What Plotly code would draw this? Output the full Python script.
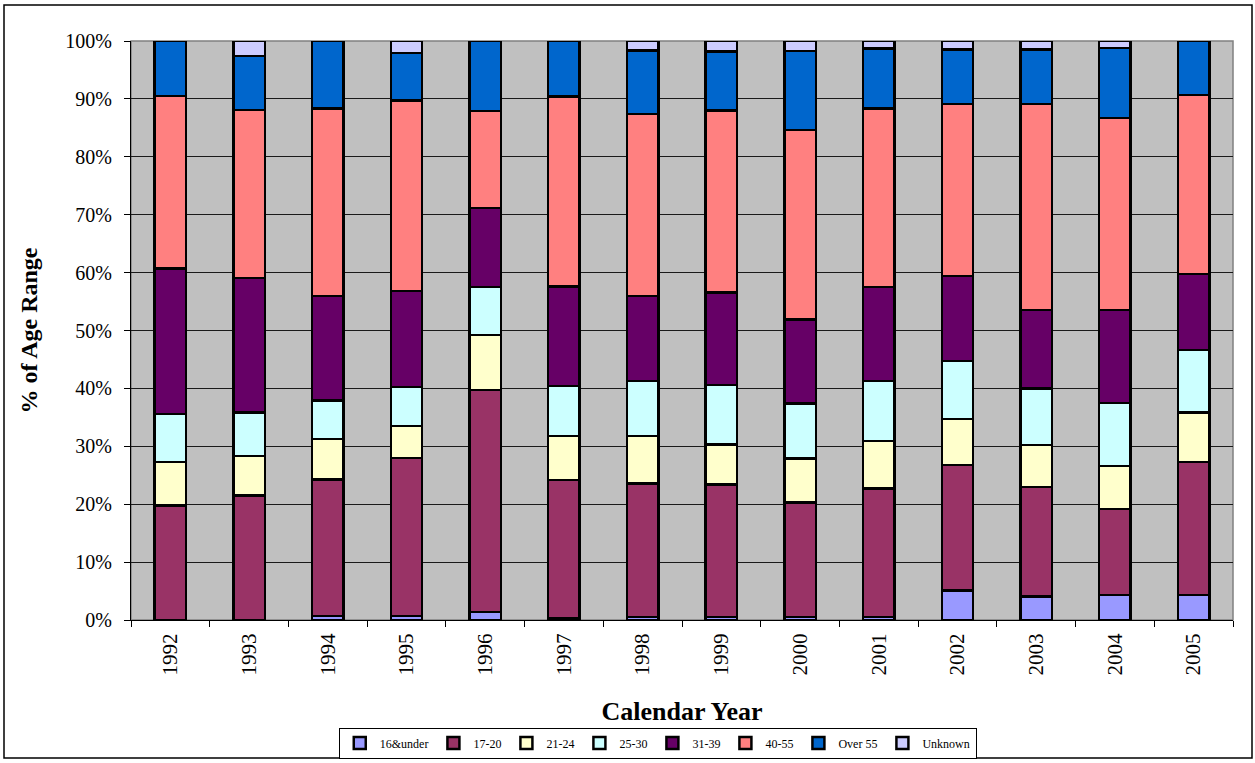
import plotly.graph_objects as go

# Calendar years on the x axis
years = ["1992", "1993", "1994", "1995", "1996", "1997", "1998",
         "1999", "2000", "2001", "2002", "2003", "2004", "2005"]

# Share of each age range per year (%)
age_16_under = [0.0, 0.0, 0.7, 0.7, 1.4, 0.3, 0.5, 0.5, 0.5, 0.5, 5.1, 4.1, 4.3, 4.3]
age_17_20 = [19.8, 21.5, 23.6, 27.3, 38.3, 23.9, 23.1, 22.9, 19.8, 22.2, 21.7, 18.9, 14.9, 23.0]
age_21_24 = [7.5, 6.8, 7.0, 5.5, 9.5, 7.6, 8.2, 6.9, 7.6, 8.2, 7.9, 7.2, 7.4, 8.5]
age_25_30 = [8.3, 7.5, 6.6, 6.7, 8.3, 8.6, 9.5, 10.3, 9.5, 10.4, 10.0, 9.8, 10.9, 10.8]
age_31_39 = [25.1, 23.3, 18.1, 16.6, 13.7, 17.2, 14.7, 16.0, 14.5, 16.2, 14.7, 13.5, 16.0, 13.2]
age_40_55 = [29.8, 29.0, 32.3, 32.9, 16.7, 32.8, 31.4, 31.4, 32.7, 30.8, 29.7, 35.6, 33.2, 30.9]
age_over_55 = [9.5, 9.3, 11.7, 8.2, 12.1, 9.6, 11.0, 10.2, 13.7, 10.4, 9.4, 9.4, 12.1, 9.3]
age_unknown = [0.0, 2.6, 0.0, 2.1, 0.0, 0.0, 1.6, 1.8, 1.7, 1.3, 1.5, 1.5, 1.2, 0.0]

series_names = ["16&under", "17-20", "21-24", "25-30", "31-39", "40-55", "Over 55", "Unknown"]
series_values = [age_16_under, age_17_20, age_21_24, age_25_30,
                 age_31_39, age_40_55, age_over_55, age_unknown]
series_colors = ["#9999FF", "#993366", "#FFFFCC", "#CCFFFF",
                 "#660066", "#FF8080", "#0066CC", "#CCCCFF"]

# y-axis ticks
y_tick_vals = [0, 10, 20, 30, 40, 50, 60, 70, 80, 90, 100]
y_tick_text = ["0%", "10%", "20%", "30%", "40%", "50%", "60%", "70%", "80%", "90%", "100%"]

FONT = "Liberation Serif"

fig = go.Figure()
for name, vals, col in zip(series_names, series_values, series_colors):
    fig.add_trace(go.Bar(
        x=years, y=vals, name=name,
        marker=dict(color=col, line=dict(color="black", width=2.5)),
    ))

W, H = 1255, 763
L, R, T, B = 131, 22, 41, 143
pw, ph = W - L - R, H - T - B

def px_x(x):
    return (x - L) / pw

def px_y(y):
    return (H - B - y) / ph

fig.update_layout(
    width=W, height=H,
    barmode="stack",
    bargap=0.6,
    margin=dict(l=L, r=R, t=T, b=B, autoexpand=False),
    paper_bgcolor="white",
    plot_bgcolor="#C0C0C0",
    font=dict(family=FONT, color="black", size=20),
    showlegend=True,
    legend=dict(
        orientation="h",
        x=0.478, xanchor="center",
        y=(H - 743) / H, yanchor="middle", yref="container",
        font=dict(family=FONT, size=12, color="black"),
        bgcolor="white",
        bordercolor="black", borderwidth=1,
        itemwidth=30,
        traceorder="normal",
        tracegroupgap=0,
    ),
    xaxis=dict(
        type="category",
        automargin=False,
        tickson="boundaries",
        ticks="outside", ticklen=6, tickcolor="black", tickwidth=1,
        tickangle=-90,
        ticklabelstandoff=4,
        tickfont=dict(family=FONT, size=21, color="black"),
        showgrid=False,
        showline=True, linecolor="black", linewidth=1,
        title=dict(text="<b>Calendar Year</b>",
                   font=dict(family=FONT, size=26, color="black"), standoff=27),
    ),
    yaxis=dict(
        range=[0, 100],
        automargin=False,
        tickmode="array",
        tickvals=y_tick_vals,
        ticktext=y_tick_text,
        ticks="outside", ticklen=6, tickcolor="black", tickwidth=1,
        ticklabelstandoff=8,
        tickfont=dict(family=FONT, size=20, color="black"),
        showgrid=True, gridcolor="#1a1a1a", gridwidth=1,
        zeroline=False,
        showline=True, linecolor="black", linewidth=1,
        title=dict(text="<b>% of Age Range</b>",
                   font=dict(family=FONT, size=24, color="black"), standoff=20),
    ),
    shapes=[
        # grey frame around the plotting area
        dict(type="rect", xref="paper", yref="paper", x0=0, x1=1, y0=0, y1=1,
             line=dict(color="#808080", width=1.5), layer="below"),
        # outer chart border
        dict(type="rect", xref="paper", yref="paper",
             x0=px_x(4), x1=px_x(1252), y0=px_y(758), y1=px_y(5),
             line=dict(color="black", width=1.5)),
    ],
)

fig.write_html("out.html")
